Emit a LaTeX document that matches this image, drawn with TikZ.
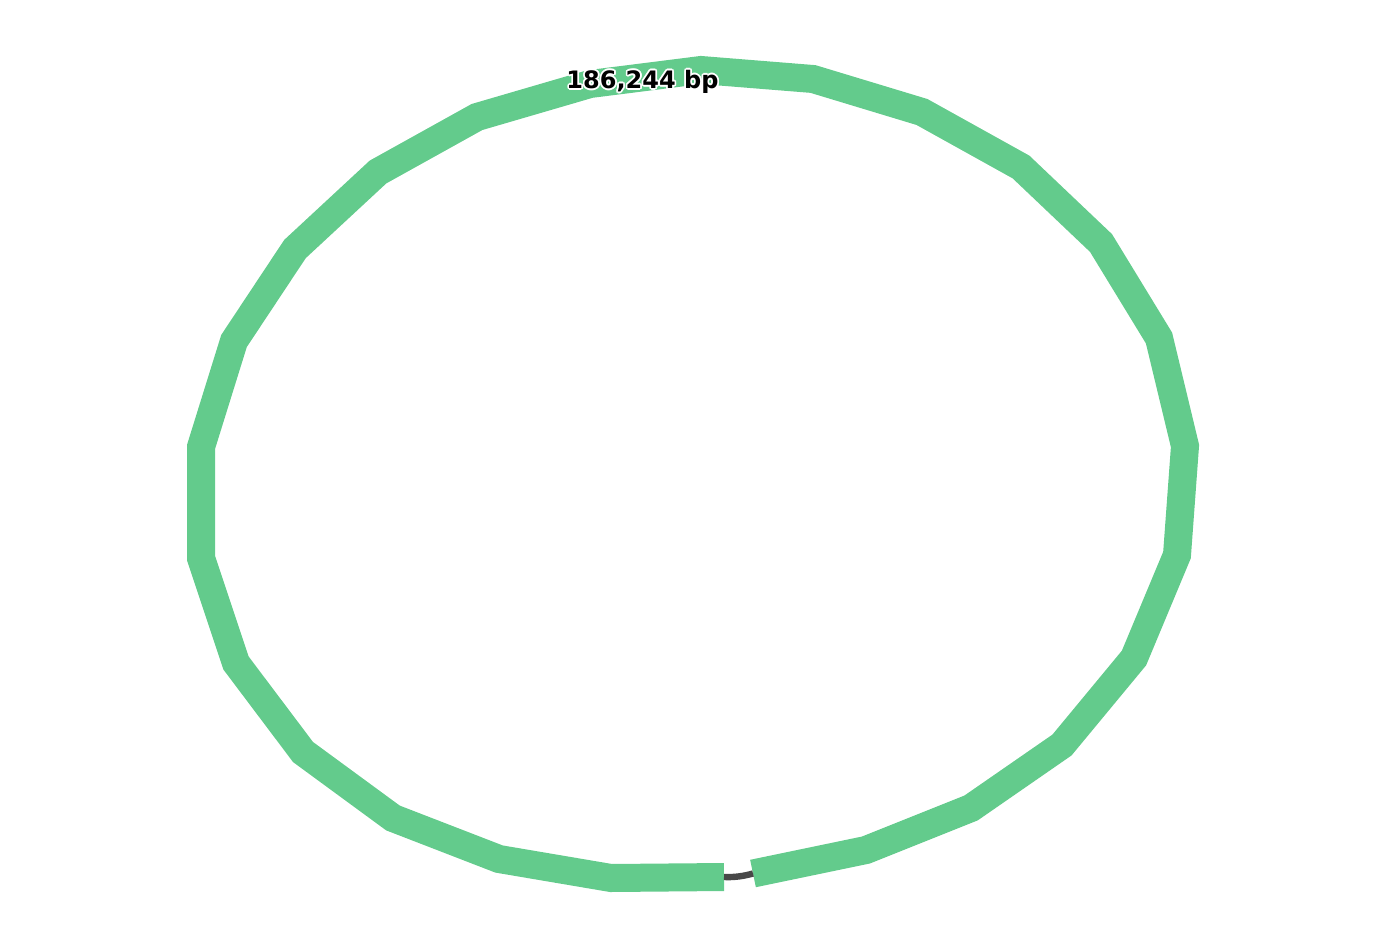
\documentclass[tikz,border=0pt]{standalone}
\usepackage{fontspec}
\usepackage{xcolor}
\usepackage{contour}
\usepackage{tikz}
\newfontfamily\lblfont{DejaVu Sans}
\definecolor{contiggreen}{RGB}{99,203,140}
\definecolor{linkgrey}{RGB}{72,72,72}
\contourlength{0.8pt}

\begin{document}
\begin{tikzpicture}[
  x=0.5pt, y=-0.5pt,
  contig/.style={draw=contiggreen, line width=14pt, line join=miter, line cap=butt},
  link/.style={draw=linkgrey, line width=3.2pt},
  lbl/.style={inner sep=0pt, anchor=base, font=\lblfont\bfseries\fontsize{12}{13}\selectfont}
]
  \useasboundingbox (0,0) rectangle (1388,948);

  % contig ends
  \coordinate (endA) at (724,877);
  \coordinate (startB) at (753,873.5);

  \draw[contig] (startB) -- (866,850) -- (971,808) -- (1062,745) -- (1134,658)
    -- (1177,555) -- (1185,446) -- (1159,338) -- (1101,243) -- (1021,167)
    -- (922,112) -- (813,79) -- (701,70) -- (590,84) -- (477,117) -- (378,172)
    -- (295,249) -- (234,341) -- (201,447) -- (201,558) -- (236,663)
    -- (303,752) -- (393,818) -- (499,859) -- (611,878) -- (endA);

  \draw[link] (endA) .. controls (735,877.5) and (744,876) .. (startB);

  % length label
  \node[lbl] (len) at (642.5,88.5) {\contour{white}{186,244 bp}};
\end{tikzpicture}
\end{document}
